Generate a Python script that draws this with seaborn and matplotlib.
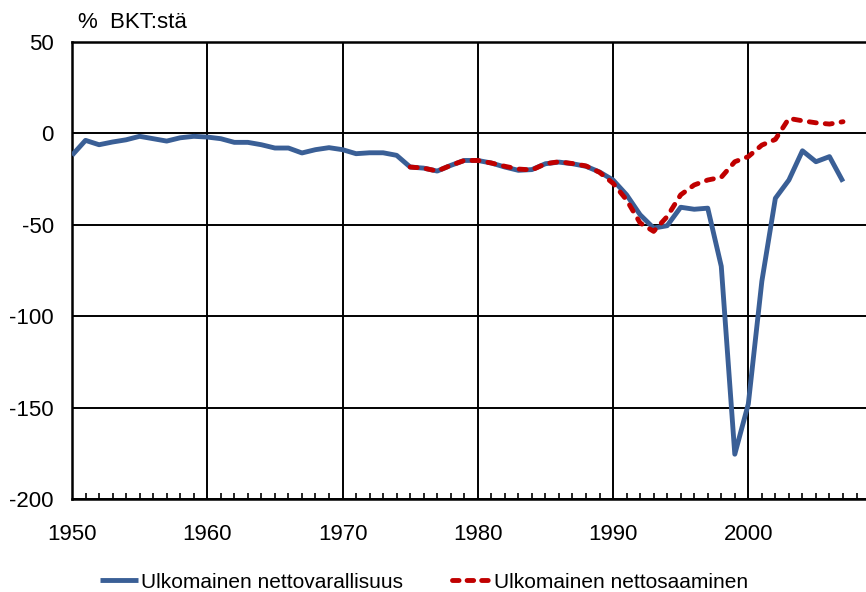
import numpy as np
import pandas as pd
import matplotlib
matplotlib.use("Agg")
import matplotlib.pyplot as plt
from matplotlib import font_manager
from matplotlib.ticker import MultipleLocator
from matplotlib.lines import Line2D
import seaborn as sns

years = list(range(1950, 2008))
nettovarallisuus = [
    -12.0, -3.8, -6.2, -4.7, -3.5, -1.6, -2.9, -4.2, -2.4, -1.6,
    -2.0, -2.9, -4.9, -4.9, -6.2, -8.0, -8.0, -10.7, -8.9, -7.8,
    -8.9, -11.1, -10.6, -10.6, -12.0, -18.4, -19.0, -20.6, -17.5, -14.8,
    -14.8, -16.2, -18.4, -20.2, -19.8, -16.6, -15.7, -16.6, -18.0, -21.1,
    -25.5, -33.6, -44.5, -51.8, -50.5, -40.4, -41.5, -40.9, -72.7, -175.5,
    -148.0, -80.9, -35.5, -25.5, -9.5, -15.5, -12.7, -26.4,
]
years_saaminen = list(range(1975, 2008))
nettosaaminen = [
    -18.4, -19.0, -20.6, -17.5, -14.8, -14.8, -16.2, -18.0, -19.5, -20.0,
    -16.6, -15.5, -16.5, -17.8, -21.3, -27.3, -36.4, -49.0, -53.6, -45.5,
    -33.6, -28.2, -25.5, -24.0, -15.5, -12.7, -6.4, -3.3, 8.2, 6.9,
    5.8, 5.1, 6.4,
]
label_a = "Ulkomainen nettovarallisuus"
label_b = "Ulkomainen nettosaaminen"
y_ticks = [50, 0, -50, -100, -150, -200]
x_ticks = [1950, 1960, 1970, 1980, 1990, 2000]

sns.set_theme(style="white")
names = {f.name for f in font_manager.fontManager.ttflist}
base = "Liberation Sans" if "Liberation Sans" in names else "DejaVu Sans"
plt.rcParams["font.family"] = [base, "DejaVu Sans"]
plt.rcParams["text.color"] = "black"
plt.rcParams["xtick.color"] = "black"
plt.rcParams["ytick.color"] = "black"

df = pd.concat([
    pd.DataFrame({"year": years, "value": nettovarallisuus, "series": label_a}),
    pd.DataFrame({"year": years_saaminen, "value": nettosaaminen, "series": label_b}),
])

fig = plt.figure(figsize=(8.66, 5.92), dpi=100)
ax = fig.add_axes([72 / 866, (592 - 499) / 592, (866 - 72) / 866, 457 / 592])

blue = "#3A5F96"
red = "#C00000"
sns.lineplot(data=df, x="year", y="value", hue="series", style="series",
             palette={label_a: blue, label_b: red},
             dashes={label_a: "", label_b: (1.45, 1.85)},
             linewidth=3.5, ax=ax, legend=False, zorder=3)
for l in ax.get_lines():
    l.set_solid_capstyle("butt")
    l.set_dash_capstyle("round")
    l.set_solid_joinstyle("round")

ax.set_xlim(1950, 2008.7)
ax.set_ylim(-200, 50)
ax.set_yticks(y_ticks)
ax.set_yticklabels([str(v) for v in y_ticks], fontsize=16)
ax.set_xticks(x_ticks)
ax.set_xticklabels([str(v) for v in x_ticks], fontsize=16)
ax.xaxis.set_minor_locator(MultipleLocator(1))
ax.tick_params(axis="x", which="minor", direction="in", length=4, width=1.2, color="black", bottom=True)
ax.tick_params(axis="x", which="major", direction="in", length=0, pad=18, colors="black")
ax.tick_params(axis="y", which="major", length=0, pad=13, colors="black")
ax.set_xlabel("")
ax.set_ylabel("")
ax.grid(True, which="major", color="black", linewidth=1.4)
ax.set_axisbelow(True)
for side in ["left", "bottom", "top"]:
    ax.spines[side].set_visible(True)
    ax.spines[side].set_color("black")
    ax.spines[side].set_linewidth(1.8)
ax.spines["right"].set_visible(False)

fig.text(78 / 866, 1 - 22 / 592, "%  BKT:stä", fontsize=16, va="center", ha="left", color="black")

handles = [
    Line2D([], [], color=blue, linewidth=3.5, solid_capstyle="butt"),
    Line2D([], [], color=red, linewidth=3.5, linestyle=(0, (1.35, 1.65)), dash_capstyle="round"),
]
fig.legend(handles, [label_a, label_b], loc="center", bbox_to_anchor=(424 / 866, 1 - 582 / 592),
           ncol=2, frameon=False, handlelength=1.85, handletextpad=0.15, columnspacing=2.35,
           prop={"size": 15})

fig.savefig("out.png", dpi=100)
